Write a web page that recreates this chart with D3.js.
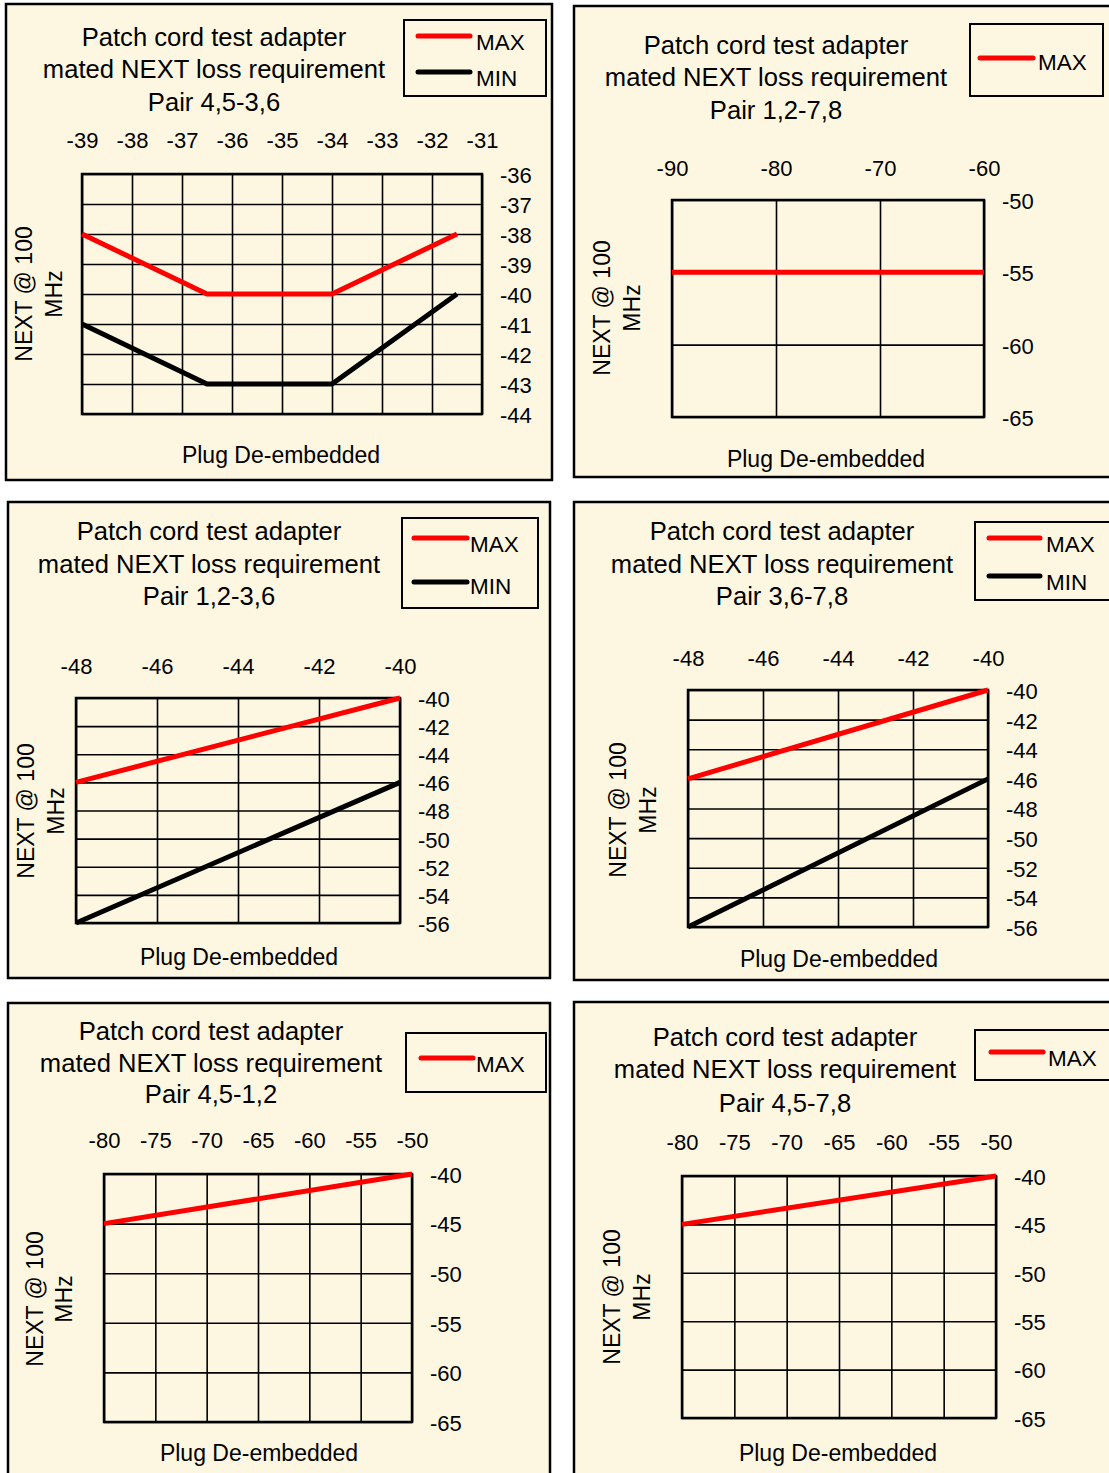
<!DOCTYPE html>
<html>
<head>
<meta charset="utf-8">
<script src="https://cdn.jsdelivr.net/npm/d3@7"></script>
<style>
  body { margin: 0; background: #fff; }
  svg { display: block; font-family: Arial, 'Liberation Sans', sans-serif; }
  .frame { fill: #fdf7e1; stroke: #000; stroke-width: 2.5; }
  .legend-box { fill: none; stroke: #000; stroke-width: 2; }
  .plot-border { fill: none; stroke: #000; stroke-width: 2.5; }
  .grid line { stroke: #000; stroke-width: 1.6; }
  .title { font-size: 25.6px; text-anchor: middle; fill: #000; }
  .legend-text { font-size: 22.5px; fill: #000; }
  .axis-title { font-size: 23px; text-anchor: middle; fill: #000; }
  .tick-labels text { font-size: 22px; font-family: Arial, 'Liberation Sans', sans-serif; fill: #000; }
</style>
</head>
<body>
<svg width="1109" height="1473"></svg>
<script>
'use strict';

// shared texts
const titleLines = ['Patch cord test adapter', 'mated NEXT loss requirement'];
const xTitle = 'Plug De-embedded';
const yTitleLines = ['NEXT @ 100', 'MHz'];

// Pair 4,5-3,6
const xTicks4536 = [-39, -38, -37, -36, -35, -34, -33, -32, -31];
const yTicks4536 = [-36, -37, -38, -39, -40, -41, -42, -43, -44];
const max4536 = [[-39, -38], [-36.5, -40], [-34, -40], [-31.5, -38]];
const min4536 = [[-39, -41], [-36.5, -43], [-34, -43], [-31.5, -40]];

// Pair 1,2-7,8
const xTicks1278 = [-90, -80, -70, -60];
const yTicks1278 = [-50, -55, -60, -65];
const max1278 = [[-90, -55], [-60, -55]];

// Pair 1,2-3,6
const xTicks1236 = [-48, -46, -44, -42, -40];
const yTicks1236 = [-40, -42, -44, -46, -48, -50, -52, -54, -56];
const max1236 = [[-48, -46], [-40, -40]];
const min1236 = [[-48, -56], [-40, -46]];

// Pair 3,6-7,8
const xTicks3678 = [-48, -46, -44, -42, -40];
const yTicks3678 = [-40, -42, -44, -46, -48, -50, -52, -54, -56];
const max3678 = [[-48, -46], [-40, -40]];
const min3678 = [[-48, -56], [-40, -46]];

// Pair 4,5-1,2
const xTicks4512 = [-80, -75, -70, -65, -60, -55, -50];
const yTicks4512 = [-40, -45, -50, -55, -60, -65];
const max4512 = [[-80, -45], [-50, -40]];

// Pair 4,5-7,8
const xTicks4578 = [-80, -75, -70, -65, -60, -55, -50];
const yTicks4578 = [-40, -45, -50, -55, -60, -65];
const max4578 = [[-80, -45], [-50, -40]];

const RED = '#ff0000';
const BLACK = '#000000';

// layout of each panel (page pixels)
const panels = [
  {
    pair: 'Pair 4,5-3,6', xTicks: xTicks4536, yTicks: yTicks4536,
    series: [{name: 'MAX', values: max4536, color: RED}, {name: 'MIN', values: min4536, color: BLACK}],
    frame: [6, 4, 552, 480], plot: [82, 174, 482, 414],
    titleX: 214, titleY: [46, 78, 111],
    legend: [404, 20, 546, 96], legendLine: [418, 470], legendTextX: 476,
    legendRows: [36, 72], legendTextY: [50, 86],
    xLabelBase: 148, yLabelX: 500,
    yTitleX: [24, 54], yTitleY: 294, xTitleX: 281, xTitleY: 463,
  },
  {
    pair: 'Pair 1,2-7,8', xTicks: xTicks1278, yTicks: yTicks1278,
    series: [{name: 'MAX', values: max1278, color: RED}],
    frame: [574, 6, 1114, 477], plot: [672, 200, 984, 417],
    titleX: 776, titleY: [54, 86, 119],
    legend: [970, 24, 1103, 96], legendLine: [980, 1033], legendTextX: 1038,
    legendRows: [58], legendTextY: [70],
    xLabelBase: 176, yLabelX: 1002,
    yTitleX: [602, 632], yTitleY: 308, xTitleX: 826, xTitleY: 467,
  },
  {
    pair: 'Pair 1,2-3,6', xTicks: xTicks1236, yTicks: yTicks1236,
    series: [{name: 'MAX', values: max1236, color: RED}, {name: 'MIN', values: min1236, color: BLACK}],
    frame: [8, 502, 550, 978], plot: [76, 698, 400, 923],
    titleX: 209, titleY: [540, 573, 605],
    legend: [402, 518, 538, 608], legendLine: [414, 467], legendTextX: 470,
    legendRows: [538, 582], legendTextY: [552, 594],
    xLabelBase: 674, yLabelX: 418,
    yTitleX: [26, 56], yTitleY: 811, xTitleX: 239, xTitleY: 965,
  },
  {
    pair: 'Pair 3,6-7,8', xTicks: xTicks3678, yTicks: yTicks3678,
    series: [{name: 'MAX', values: max3678, color: RED}, {name: 'MIN', values: min3678, color: BLACK}],
    frame: [574, 502, 1114, 980], plot: [688, 690, 988, 927],
    titleX: 782, titleY: [540, 573, 605],
    legend: [975, 522, 1114, 600], legendLine: [989, 1040], legendTextX: 1046,
    legendRows: [538, 576], legendTextY: [552, 590],
    xLabelBase: 666, yLabelX: 1006,
    yTitleX: [618, 648], yTitleY: 810, xTitleX: 839, xTitleY: 967,
  },
  {
    pair: 'Pair 4,5-1,2', xTicks: xTicks4512, yTicks: yTicks4512,
    series: [{name: 'MAX', values: max4512, color: RED}],
    frame: [8, 1003, 550, 1480], plot: [104, 1174, 412, 1422],
    titleX: 211, titleY: [1040, 1072, 1103],
    legend: [406, 1033, 546, 1092], legendLine: [421, 473], legendTextX: 476,
    legendRows: [1058], legendTextY: [1072],
    xLabelBase: 1148, yLabelX: 430,
    yTitleX: [35, 64], yTitleY: 1299, xTitleX: 259, xTitleY: 1461,
  },
  {
    pair: 'Pair 4,5-7,8', xTicks: xTicks4578, yTicks: yTicks4578,
    series: [{name: 'MAX', values: max4578, color: RED}],
    frame: [574, 1002, 1114, 1480], plot: [682, 1176, 996, 1418],
    titleX: 785, titleY: [1046, 1078, 1112],
    legend: [975, 1030, 1114, 1080], legendLine: [991, 1043], legendTextX: 1048,
    legendRows: [1052], legendTextY: [1066],
    xLabelBase: 1150, yLabelX: 1014,
    yTitleX: [612, 642], yTitleY: 1297, xTitleX: 838, xTitleY: 1461,
  },
];

const svg = d3.select('svg');

function drawPanel(p) {
  const g = svg.append('g');
  const [fx0, fy0, fx1, fy1] = p.frame;
  const [px0, py0, px1, py1] = p.plot;

  g.append('rect').attr('class', 'frame')
      .attr('x', fx0).attr('y', fy0)
      .attr('width', fx1 - fx0).attr('height', fy1 - fy0);

  // title, three centred lines
  g.selectAll('.title').data(titleLines.concat([p.pair])).enter()
      .append('text').attr('class', 'title')
      .attr('x', p.titleX)
      .attr('y', (d, i) => p.titleY[i])
      .text(d => d);

  // legend
  const [lx0, ly0, lx1, ly1] = p.legend;
  g.append('rect').attr('class', 'legend-box')
      .attr('x', lx0).attr('y', ly0)
      .attr('width', lx1 - lx0).attr('height', ly1 - ly0);
  p.series.forEach((s, i) => {
    g.append('line')
        .attr('x1', p.legendLine[0]).attr('x2', p.legendLine[1])
        .attr('y1', p.legendRows[i]).attr('y2', p.legendRows[i])
        .attr('stroke', s.color).attr('stroke-width', 5)
        .attr('stroke-linecap', 'round');
    g.append('text').attr('class', 'legend-text')
        .attr('x', p.legendTextX).attr('y', p.legendTextY[i])
        .text(s.name);
  });

  const x = d3.scaleLinear().domain(d3.extent(p.xTicks)).range([px0, px1]);
  const y = d3.scaleLinear().domain(d3.extent(p.yTicks)).range([py1, py0]);

  // grid
  g.append('g').attr('class', 'grid')
      .attr('transform', `translate(0,${py1})`)
      .call(d3.axisBottom(x).tickValues(p.xTicks)
          .tickSize(-(py1 - py0)).tickFormat(''))
      .call(a => a.select('.domain').remove());
  g.append('g').attr('class', 'grid')
      .attr('transform', `translate(${px0},0)`)
      .call(d3.axisLeft(y).tickValues(p.yTicks)
          .tickSize(-(px1 - px0)).tickFormat(''))
      .call(a => a.select('.domain').remove());

  g.append('rect').attr('class', 'plot-border')
      .attr('x', px0).attr('y', py0)
      .attr('width', px1 - px0).attr('height', py1 - py0);

  // tick labels: x on top, y on the right
  g.append('g').attr('class', 'tick-labels')
      .attr('transform', `translate(0,${py0})`)
      .call(d3.axisTop(x).tickValues(p.xTicks).tickSize(0)
          .tickPadding(py0 - p.xLabelBase).tickFormat(d => String(d)))
      .call(a => a.select('.domain').remove());
  g.append('g').attr('class', 'tick-labels')
      .attr('transform', `translate(${px1},0)`)
      .call(d3.axisRight(y).tickValues(p.yTicks).tickSize(0)
          .tickPadding(p.yLabelX - px1).tickFormat(d => String(d)))
      .call(a => a.select('.domain').remove())
      .selectAll('text').attr('dy', '0.38em');

  // data lines
  const line = d3.line().x(d => x(d[0])).y(d => y(d[1]));
  p.series.slice().reverse().forEach(s => {
    g.append('path').datum(s.values)
        .attr('d', line)
        .attr('fill', 'none')
        .attr('stroke', s.color)
        .attr('stroke-width', 5);
  });

  // axis titles
  yTitleLines.forEach((t, i) => {
    g.append('text').attr('class', 'axis-title')
        .attr('transform', `translate(${p.yTitleX[i]},${p.yTitleY}) rotate(-90)`)
        .attr('dy', '0.36em')
        .text(t);
  });
  g.append('text').attr('class', 'axis-title')
      .attr('x', p.xTitleX).attr('y', p.xTitleY)
      .text(xTitle);
}

panels.forEach(drawPanel);
</script>
</body>
</html>
